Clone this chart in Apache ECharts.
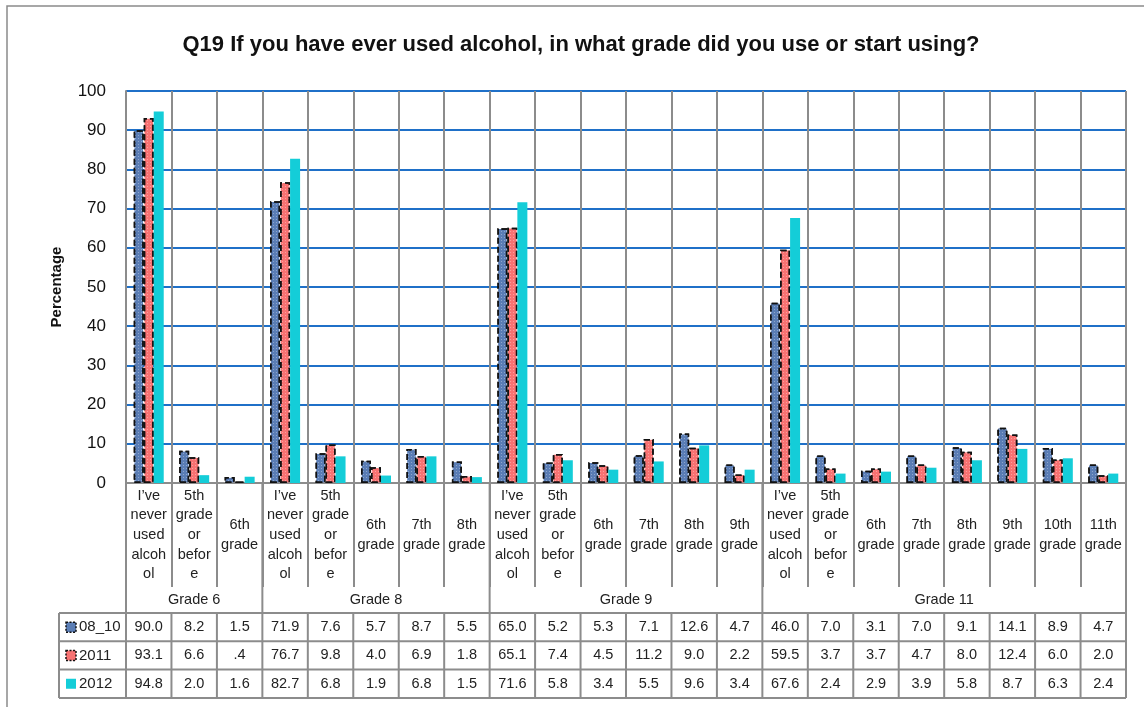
<!DOCTYPE html>
<html><head><meta charset="utf-8">
<script src="https://cdn.jsdelivr.net/npm/echarts@6/dist/echarts.min.js"></script>
<style>html,body{margin:0;padding:0;background:#fff}#c{width:1144px;height:707px}</style>
</head><body><div id="c"></div>
<script>
const categories = ["I’ve\nnever\nused\nalcoh\nol","5th\ngrade\nor\nbefor\ne","6th\ngrade",
 "I’ve\nnever\nused\nalcoh\nol","5th\ngrade\nor\nbefor\ne","6th\ngrade","7th\ngrade","8th\ngrade",
 "I’ve\nnever\nused\nalcoh\nol","5th\ngrade\nor\nbefor\ne","6th\ngrade","7th\ngrade","8th\ngrade","9th\ngrade",
 "I’ve\nnever\nused\nalcoh\nol","5th\ngrade\nor\nbefor\ne","6th\ngrade","7th\ngrade","8th\ngrade","9th\ngrade","10th\ngrade","11th\ngrade"];
const groupNames = ["Grade 6","Grade 8","Grade 9","Grade 11"];
const groupSizes = [3,5,6,8];
const seriesNames = ["08_10","2011","2012"];
const s0810 = [90.0,8.2,1.5, 71.9,7.6,5.7,8.7,5.5, 65.0,5.2,5.3,7.1,12.6,4.7, 46.0,7.0,3.1,7.0,9.1,14.1,8.9,4.7];
const s2011 = [93.1,6.6,0.4, 76.7,9.8,4.0,6.9,1.8, 65.1,7.4,4.5,11.2,9.0,2.2, 59.5,3.7,3.7,4.7,8.0,12.4,6.0,2.0];
const s2012 = [94.8,2.0,1.6, 82.7,6.8,1.9,6.8,1.5, 71.6,5.8,3.4,5.5,9.6,3.4, 67.6,2.4,2.9,3.9,5.8,8.7,6.3,2.4];
const yTicks = [0,10,20,30,40,50,60,70,80,90,100];
const titleText = "Q19 If you have ever used alcohol, in what grade did you use or start using?";

const FONT = "Liberation Sans, Arial, sans-serif";
const GRAY = "#8c8c8c";
const colors = ["#5a7db5","#f87272","#14cdd8"];
const allSeries = [s0810, s2011, s2012];

const chart = echarts.init(document.getElementById('c'), null, {renderer:'canvas'});
const decal = {symbol:'rect', symbolSize:0.9, color:'rgba(255,255,255,0.35)', dashArrayX:[1,2], dashArrayY:[1,2], rotation:0};

chart.setOption({
  animation:false,
  backgroundColor:'#fff',
  grid:{left:126, right:18, top:91, bottom:224, show:false},
  xAxis:{type:'category', data:categories, boundaryGap:true,
    axisLine:{show:true, lineStyle:{color:GRAY, width:2}},
    axisTick:{show:true, length:104, interval:0, lineStyle:{color:GRAY, width:2}},
    splitLine:{show:true, interval:0, lineStyle:{color:GRAY, width:2}},
    axisLabel:{interval:0, margin:52, verticalAlign:'middle', fontFamily:FONT, fontSize:14.5, color:'#222', lineHeight:19.7, align:'center'}
  },
  yAxis:{type:'value', min:0, max:100, interval:10,
    axisLine:{show:true, lineStyle:{color:GRAY, width:2}},
    axisTick:{show:false},
    splitLine:{show:true, lineStyle:{color:'#1f70c8', width:2}},
    axisLabel:{margin:20, fontFamily:FONT, fontSize:17, color:'#111', formatter:v=>yTicks.includes(v)?String(v):''},
    name:'Percentage', nameLocation:'middle', nameGap:62, nameRotate:90,
    nameTextStyle:{fontFamily:FONT, fontSize:15, fontWeight:'bold', color:'#111'}
  },
  series: allSeries.map((d,i)=>({
    name:seriesNames[i], type:'bar', data:d, barWidth:10, barGap:'0%',
    itemStyle: i<2 ? {color:colors[i], borderColor:'#111', borderWidth:1.5, borderType:'dashed', decal:decal} : {color:colors[i]}
  })),
  graphic:[]
});

// Build title, frame, group labels and data table from axis positions
const centers = categories.map((_,i)=>chart.convertToPixel({xAxisIndex:0}, i));
const cw = centers[1]-centers[0];
const left = centers[0]-cw/2;
const right = centers[centers.length-1]+cw/2;
const axisY = chart.convertToPixel({yAxisIndex:0}, 0);
const catBottom = axisY + 104;
const rowH = 28.3;
const tableTop = catBottom + 26;
const tableLeft = left - 67;
const g = [];
const line = (x1,y1,x2,y2)=>g.push({type:'line', shape:{x1,y1,x2,y2}, style:{stroke:GRAY, lineWidth:2}, silent:true});
const text = (x,y,t,opt={})=>g.push({type:'text', x, y, style:Object.assign({text:t, font:'14.5px '+FONT, fill:'#222', textAlign:'center', textVerticalAlign:'middle'},opt), silent:true});

// frame
g.push({type:'rect', shape:{x:7, y:6, width:1150, height:720}, style:{fill:'none', stroke:'#8a8a8a', lineWidth:1.5}, silent:true});
// title
text(581, 45, titleText, {font:'bold 22px '+FONT, fill:'#111'});

// group boundaries and labels
let idx = 0;
const groupBounds = [0];
groupSizes.forEach((n,k)=>{
  const x0 = left + idx*cw, x1 = left + (idx+n)*cw;
  text((x0+x1)/2, (catBottom+tableTop)/2, groupNames[k]);
  idx += n; groupBounds.push(idx);
});
groupBounds.forEach(b=>line(left+b*cw, axisY, left+b*cw, tableTop));
// table horizontal lines
for(let r=0;r<=3;r++) line(tableLeft, tableTop+r*rowH, right, tableTop+r*rowH);
// table vertical lines
line(tableLeft, tableTop, tableLeft, tableTop+3*rowH);
for(let c=0;c<=categories.length;c++) line(left+c*cw, tableTop, left+c*cw, tableTop+3*rowH);
// values
const fmt = v => { const s = v.toFixed(1); return v<1 ? s.replace(/^0/,'') : s; };
allSeries.forEach((d,r)=>{
  const yc = tableTop + r*rowH + rowH/2;
  d.forEach((v,c)=>text(centers[c], yc, fmt(v), {font:'14.5px '+FONT}));
  // legend key
  g.push({type:'rect', shape:{x:tableLeft+7, y:yc-5, width:10, height:10},
    style: r<2 ? {fill:colors[r], stroke:'#111', lineWidth:1.5, lineDash:[2,1.5]} : {fill:colors[r]}, silent:true});
  text(tableLeft+20, yc, seriesNames[r], {font:'15px '+FONT, textAlign:'left'});
});
chart.setOption({graphic:g});
</script></body></html>
